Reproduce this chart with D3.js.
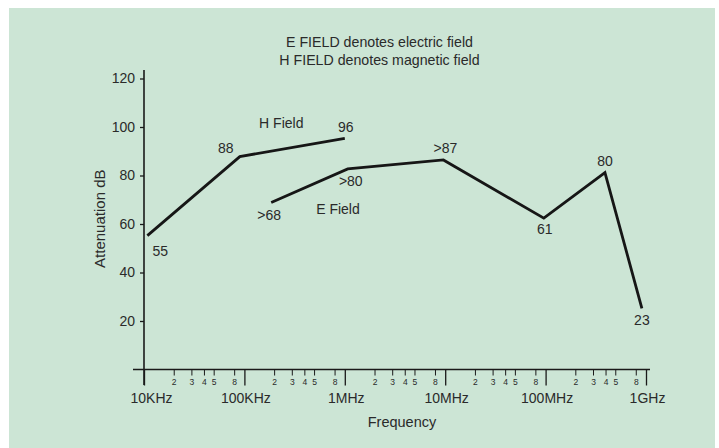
<!DOCTYPE html>
<html>
<head>
<meta charset="utf-8">
<script src="https://cdn.jsdelivr.net/npm/d3@7"></script>
<style>
  html, body { margin: 0; padding: 0; background: #ffffff; }
  svg { display: block; }
  text { font-family: "Liberation Sans", Arial, Helvetica, sans-serif; fill: #2a2a2a; }
</style>
</head>
<body>
<svg id="chart" width="719" height="448"></svg>
<script>
// ---- data ----
const titleLines = ["E FIELD denotes electric field", "H FIELD denotes magnetic field"];
const decadeValues = [1e4, 1e5, 1e6, 1e7, 1e8, 1e9];
const decadeLabels = ["10KHz", "100KHz", "1MHz", "10MHz", "100MHz", "1GHz"];
const minorMultipliers = [2, 3, 4, 5, 8];
const yTickValues = [20, 40, 60, 80, 100, 120];

const hFieldFreq   = [1.08e4, 0.9e5, 1.0e6];
const hFieldValues = [55.2, 87.8, 95.3];
const hFieldLabels = ["55", "88", "96"];

const eFieldFreq   = [1.85e5, 1.07e6, 9.6e6, 9.6e7, 3.9e8, 9.1e8];
const eFieldValues = [68.9, 82.7, 86.4, 62.4, 81.2, 25.2];
const eFieldLabels = [">68", ">80", ">87", "61", "80", "23"];

const seriesNames = ["H Field", "E Field"];
const xTitle = "Frequency";
const yTitle = "Attenuation dB";

// ---- layout ----
const svg = d3.select("#chart");
svg.append("rect").attr("x", 9).attr("y", 8).attr("width", 706).attr("height", 440).attr("fill", "#cce5d5");

const x = d3.scaleLog().domain([1e4, 1e9]).range([144, 646]);
const y = d3.scaleLinear().domain([0, 120]).range([369.5, 78.5]);

// title
svg.selectAll("text.title").data(titleLines).join("text")
  .attr("class", "title")
  .attr("x", 379.5).attr("y", (d, i) => 46.7 + i * 18.3)
  .attr("text-anchor", "middle").attr("font-size", 14.2)
  .text(d => d);

// y axis
const yAxisG = svg.append("g").attr("transform", `translate(${x(1e4)},0)`);
yAxisG.call(d3.axisLeft(y).tickValues(yTickValues).tickSize(4).tickPadding(5));
yAxisG.select(".domain").remove();
yAxisG.selectAll("line").attr("stroke", "#1a1a1a").attr("stroke-width", 1.3);
yAxisG.selectAll("text").attr("font-size", 14).attr("fill", "#2a2a2a").attr("font-family", "Liberation Sans, Arial, sans-serif");
svg.append("line").attr("x1", x(1e4)).attr("x2", x(1e4)).attr("y1", 70).attr("y2", 385)
  .attr("stroke", "#1a1a1a").attr("stroke-width", 1.6);

// x axis line
svg.append("line").attr("x1", 133).attr("x2", 650).attr("y1", y(0)).attr("y2", y(0))
  .attr("stroke", "#1a1a1a").attr("stroke-width", 1.6);

// major decade ticks
const xAxisG = svg.append("g").attr("transform", `translate(0,${y(0)})`);
xAxisG.call(d3.axisBottom(x).tickValues(decadeValues).tickFormat((d, i) => decadeLabels[i]).tickSize(16).tickPadding(8));
xAxisG.select(".domain").remove();
xAxisG.selectAll("line").attr("stroke", "#1a1a1a").attr("stroke-width", 1.3);
xAxisG.selectAll("text").attr("font-size", 14).attr("fill", "#2a2a2a").attr("font-family", "Liberation Sans, Arial, sans-serif")
  .attr("dx", (d, i) => i === 0 ? 7 : 1);

// minor ticks
const minorVals = [];
decadeValues.slice(0, -1).forEach(dv => minorMultipliers.forEach(m => minorVals.push({v: dv * m, m})));
const minorG = svg.append("g");
minorG.selectAll("line").data(minorVals).join("line")
  .attr("x1", d => x(d.v)).attr("x2", d => x(d.v))
  .attr("y1", y(0)).attr("y2", y(0) + 6)
  .attr("stroke", "#1a1a1a").attr("stroke-width", 1);
minorG.selectAll("text").data(minorVals).join("text")
  .attr("x", d => x(d.v)).attr("y", y(0) + 15.5)
  .attr("text-anchor", "middle").attr("font-size", 8.5)
  .text(d => d.m);

// axis titles
svg.append("text").attr("x", 402).attr("y", 426.7).attr("text-anchor", "middle")
  .attr("font-size", 14.5).text(xTitle);
svg.append("text").attr("transform", "translate(104.5,218.7) rotate(-90)")
  .attr("text-anchor", "middle").attr("font-size", 15).text(yTitle);

// lines
const line = d3.line().x(d => x(d[0])).y(d => y(d[1]));
const hPts = hFieldFreq.map((f, i) => [f, hFieldValues[i]]);
const ePts = eFieldFreq.map((f, i) => [f, eFieldValues[i]]);
[hPts, ePts].forEach(pts => {
  svg.append("path").datum(pts).attr("d", line)
    .attr("fill", "none").attr("stroke", "#161616").attr("stroke-width", 2.8)
    .attr("stroke-linejoin", "miter");
});

// value labels (pixel offsets from each point)
const hOffsets = [[13, 20], [-14, -4], [1, -6]];
const eOffsets = [[-2, 18], [3, 17], [2, -7], [1, 16], [0, -7], [0, 17]];
function drawLabels(pts, labels, offs) {
  svg.append("g").selectAll("text").data(pts).join("text")
    .attr("x", (d, i) => x(d[0]) + offs[i][0])
    .attr("y", (d, i) => y(d[1]) + offs[i][1])
    .attr("text-anchor", "middle").attr("font-size", 14)
    .text((d, i) => labels[i]);
}
drawLabels(hPts, hFieldLabels, hOffsets);
drawLabels(ePts, eFieldLabels, eOffsets);

// series names
const nameAnchors = [[2.33e5, 99.5], [8.55e5, 64]];
svg.append("g").selectAll("text").data(seriesNames).join("text")
  .attr("x", (d, i) => x(nameAnchors[i][0]))
  .attr("y", (d, i) => y(nameAnchors[i][1]))
  .attr("text-anchor", "middle").attr("font-size", 14)
  .text(d => d);
</script>
</body>
</html>
